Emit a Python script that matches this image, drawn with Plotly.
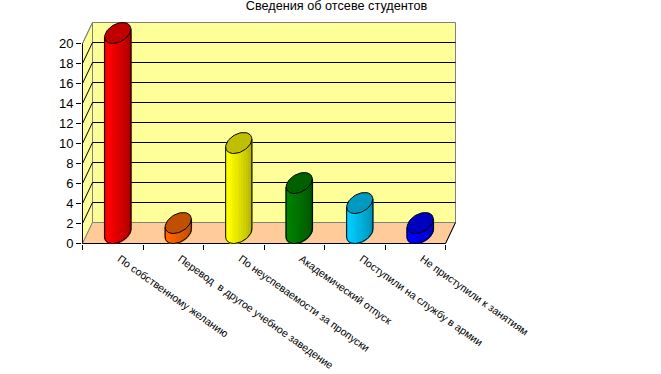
import math
import plotly.graph_objects as go

title = "Сведения об отсеве студентов"
categories = ["По собственному желанию", "Перевод  в другое учебное заведение",
              "По неуспеваемости за пропуски", "Академический отпуск",
              "Поступили на службу в армии", "Не приступили к занятиям"]
values = [20, 1, 9, 5, 3, 1]
y_ticks = list(range(0, 21, 2))

bright = ["#FF0000", "#FF6600", "#FFFF00", "#008000", "#00CCFF", "#0000FF"]
dark = ["#A00000", "#B04A00", "#A8A800", "#005000", "#0088AA", "#0000B0"]
top = ["#C00000", "#BF5000", "#BFBF00", "#006000", "#0099BF", "#0000BF"]

WALL, FLOOR, EDGE = "#FFFF99", "#FFCC99", "#808080"
UNIT_PX = 60.5             # pixels per category
DX, DY = 10 / UNIT_PX, 2.1 # depth offset of the box in axis units
A = 0.2                    # cylinder half width
STRIPS = 14
n = len(categories)
x0, x1 = -0.5, n - 0.5

fig = go.Figure()


def poly(xs, ys, fill=None, line=None, width=1):
    fig.add_trace(go.Scatter(
        x=xs, y=ys, mode="lines", cliponaxis=False, hoverinfo="skip", showlegend=False,
        fill="toself" if fill else None, fillcolor=fill,
        line=dict(color=line or "rgba(0,0,0,0)", width=width if line else 0)))


def mix(c1, c2, f):
    a = [int(c1[i:i + 2], 16) for i in (1, 3, 5)]
    b = [int(c2[i:i + 2], 16) for i in (1, 3, 5)]
    return "rgb(%d,%d,%d)" % tuple(round(p + (q - p) * f) for p, q in zip(a, b))


# box
poly([x0 + DX, x1 + DX, x1 + DX, x0 + DX, x0 + DX], [DY, DY, 20 + DY, 20 + DY, DY], WALL, EDGE)
poly([x0, x0 + DX, x0 + DX, x0, x0], [0, DY, 20 + DY, 20, 0], WALL, EDGE)
poly([x0, x1, x1 + DX, x0 + DX, x0], [0, 0, DY, DY, 0], FLOOR, EDGE)
for v in y_ticks[1:-1]:
    poly([x0, x0 + DX, x1 + DX], [v, v + DY, v + DY], None, "black")
poly([x0, x0 + DX], [20, 20 + DY], None, EDGE)
poly([x0, x0, x1, x1 + DX], [20, 0, 0, DY], None, "black")


def ell(cx, cy, t):
    return (cx + A * math.cos(t) + DX / 2 * math.sin(t), cy + DY / 2 * math.sin(t))


phi = math.atan2(DX / 2, A)
for i, v in enumerate(values):
    cx = i + DX / 2
    low, high = DY / 2, v + DY / 2
    ts = [phi + math.pi + math.pi * k / STRIPS for k in range(STRIPS + 1)]
    for k in range(STRIPS):
        f = max(0, min(1, (k + 0.5) / STRIPS * 1.35 - 0.35))
        steps = [ts[k], ts[k + 1]]
        bottom = [ell(cx, low, t) for t in steps]
        upper = [ell(cx, high, t) for t in reversed(steps)]
        pts = bottom + upper
        col = mix(bright[i], dark[i], f)
        poly([p[0] for p in pts] + [pts[0][0]], [p[1] for p in pts] + [pts[0][1]], col, col, 1.5)
    fine = [phi + math.pi + math.pi * k / 30 for k in range(31)]
    b = [ell(cx, low, t) for t in fine]
    poly([p[0] for p in b] + [ell(cx, high, fine[-1])[0]],
         [p[1] for p in b] + [ell(cx, high, fine[-1])[1]], None, "black")
    poly([ell(cx, low, fine[0])[0], ell(cx, high, fine[0])[0]],
         [ell(cx, low, fine[0])[1], ell(cx, high, fine[0])[1]], None, "black")
    ring = [ell(cx, high, 2 * math.pi * k / 60) for k in range(61)]
    poly([p[0] for p in ring], [p[1] for p in ring], top[i], "black")

fig.update_layout(
    width=661, height=374, paper_bgcolor="white", plot_bgcolor="white",
    margin=dict(l=82, r=205, t=22, b=130), showlegend=False,
    font=dict(family="Liberation Sans", color="black"),
    title=dict(text=title, font=dict(size=12.7, family="Liberation Sans"), xref="container", x=336.5 / 661,
               xanchor="center", yref="container", y=1 - 6 / 374, yanchor="middle"),
    xaxis=dict(range=[x0 - 0.5 / UNIT_PX, x1 + DX + 0.5 / UNIT_PX], tickmode="array",
               tickvals=list(range(n)), ticktext=categories, automargin=False,
               tickangle=35.5, ticks="", ticklen=0, tickfont=dict(size=10.6), showgrid=False, zeroline=False,
               showline=False, ticklabelshift=7, ticklabelstandoff=6,
               minor=dict(tickmode="array", tickvals=[x0 + k for k in range(n + 1)], ticks="outside",
                          ticklen=5, tickcolor="black", tickwidth=1, showgrid=False)),
    yaxis=dict(range=[-0.05, 20 + DY + 0.05], tickmode="array", tickvals=y_ticks, ticks="outside", ticklen=5,
               automargin=False,
               tickcolor="black", tickwidth=1, tickfont=dict(size=13), showgrid=False, zeroline=False,
               showline=False),
)
fig.write_html("out.html", config=dict(displayModeBar=False),
               post_script="document.body.style.margin='0';document.documentElement.style.overflow='hidden';")
